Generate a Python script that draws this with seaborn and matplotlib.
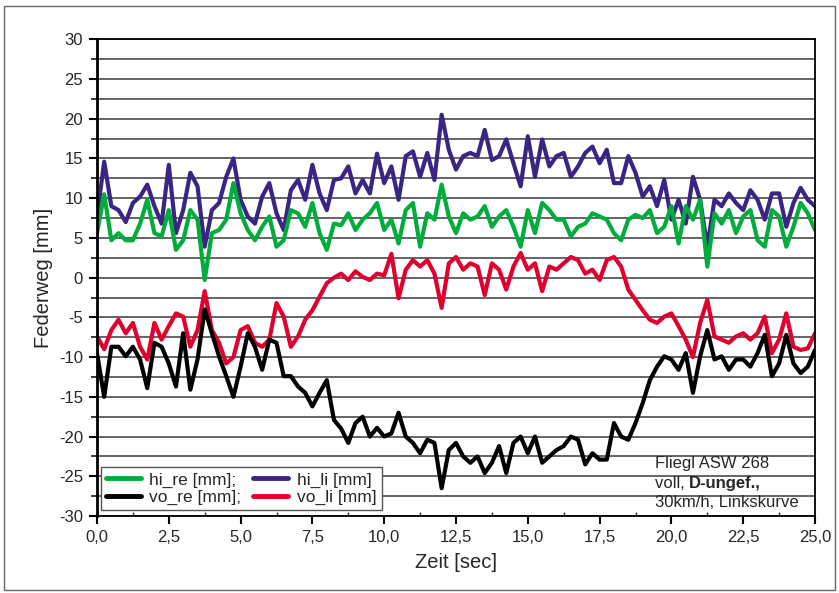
import numpy as np
import pandas as pd
import matplotlib.pyplot as plt
import matplotlib.patches as patches
from matplotlib.ticker import MultipleLocator
import seaborn as sns

sns.set_style("white")
plt.rcParams['font.family'] = ['Liberation Sans', 'DejaVu Sans']

# time axis [sec], sampled every 0.25 s
zeit = np.arange(0, 25.01, 0.25)

hi_li = [7.7, 14.6, 9.0, 8.5, 7.0, 9.4, 10.2, 11.7, 9.0, 6.8, 14.2, 5.6,
         8.5, 13.2, 11.5, 3.9, 8.5, 9.4, 12.7, 15.0, 9.8, 7.7, 6.8, 10.2,
         11.9, 8.1, 6.0, 11.0, 12.3, 9.8, 14.2, 10.6, 8.5, 12.3, 12.5, 14.0,
         10.6, 12.3, 10.6, 15.6, 11.9, 14.0, 9.8, 15.3, 15.9, 12.7, 15.7, 12.3,
         20.5, 16.1, 13.6, 15.3, 15.7, 15.3, 18.6, 14.8, 15.3, 17.4, 14.4, 11.5,
         17.8, 12.7, 17.4, 14.0, 15.3, 15.7, 12.7, 14.0, 15.7, 16.5, 14.4, 16.1,
         11.9, 11.9, 15.3, 13.2, 10.2, 11.5, 9.0, 12.3, 7.3, 9.8, 6.8, 12.7,
         9.8, 3.9, 9.8, 9.0, 10.6, 9.4, 8.5, 11.0, 9.8, 7.3, 10.6, 10.6,
         6.4, 9.4, 11.3, 9.8, 9.0]

hi_re = [5.6, 10.5, 4.7, 5.6, 4.7, 4.7, 6.8, 9.8, 5.6, 5.2, 8.5, 3.5,
         4.7, 8.5, 7.3, -0.3, 5.6, 6.0, 7.3, 11.9, 8.1, 6.0, 4.7, 6.4,
         7.7, 3.9, 4.7, 8.5, 8.1, 6.4, 9.4, 5.6, 3.5, 6.8, 6.6, 8.1,
         6.0, 7.3, 8.1, 9.4, 6.0, 7.3, 4.3, 8.5, 9.4, 3.9, 8.1, 7.3,
         11.7, 7.7, 5.6, 8.1, 7.3, 7.7, 9.0, 6.4, 7.7, 8.5, 6.4, 3.9,
         8.5, 5.6, 9.4, 8.5, 7.3, 7.3, 5.2, 6.4, 6.8, 8.1, 7.7, 7.3,
         5.6, 4.7, 7.3, 7.9, 7.5, 8.5, 5.6, 6.4, 9.0, 4.3, 9.0, 7.3,
         9.8, 1.4, 8.1, 6.8, 8.5, 5.6, 7.7, 8.5, 4.7, 3.9, 8.5, 7.7,
         3.9, 6.4, 9.4, 8.1, 6.0]

vo_li = [-7.4, -9.0, -6.6, -5.3, -7.0, -5.7, -8.7, -10.3, -5.7, -7.8, -6.1, -4.5,
         -4.9, -8.7, -6.6, -1.7, -6.6, -8.2, -10.8, -10.0, -6.6, -6.1, -8.2, -8.7,
         -7.8, -3.2, -4.9, -8.7, -7.4, -5.3, -4.1, -2.4, -0.7, 0.0, 0.5, -0.3,
         0.8, 0.1, -0.3, 0.5, 0.3, 3.0, -2.6, 1.0, 2.2, 1.4, 2.2, 0.5,
         -3.8, 1.8, 2.6, 1.0, 1.8, 1.4, -2.2, 1.8, 1.0, -1.5, 1.4, 3.1,
         1.0, 1.8, -1.7, 1.4, 1.0, 1.8, 2.6, 2.2, 0.5, 1.0, -0.3, 2.2,
         2.6, 1.4, -1.5, -2.8, -4.1, -5.3, -5.7, -4.9, -4.5, -6.1, -7.8, -10.0,
         -5.7, -2.8, -7.4, -7.8, -8.2, -7.4, -7.0, -7.8, -7.0, -4.9, -9.5, -7.8,
         -4.5, -8.7, -9.1, -8.9, -7.0]

vo_re = [-9.5, -15.0, -8.7, -8.7, -9.9, -8.7, -10.3, -13.9, -8.2, -8.7, -10.8, -13.7,
         -7.0, -14.1, -10.3, -4.0, -7.0, -9.9, -12.4, -15.0, -11.2, -7.0, -8.7, -11.6,
         -7.8, -8.2, -12.4, -12.4, -13.7, -14.5, -16.2, -14.5, -12.9, -17.9, -19.0, -20.8,
         -18.3, -17.5, -20.0, -18.9, -20.0, -19.6, -17.0, -20.0, -20.8, -22.1, -20.4, -20.8,
         -26.5, -21.7, -20.8, -22.5, -23.3, -22.5, -24.6, -23.3, -21.2, -24.6, -20.8, -20.0,
         -22.1, -20.0, -23.3, -22.5, -21.7, -21.2, -20.0, -20.4, -23.5, -22.1, -22.9, -22.9,
         -18.3, -20.0, -20.4, -18.3, -15.8, -12.9, -11.2, -9.9, -10.3, -11.6, -9.5, -14.5,
         -9.9, -6.6, -10.3, -9.9, -11.6, -10.3, -10.3, -11.2, -9.5, -7.2, -12.4, -10.8,
         -7.2, -10.8, -12.0, -11.2, -9.1]

df = pd.DataFrame({'Zeit': zeit, 'hi_li': hi_li, 'hi_re': hi_re,
                   'vo_li': vo_li, 'vo_re': vo_re})

series = [('hi_li', 'hi_li [mm]', '#3b2584'),
          ('hi_re', 'hi_re [mm];', '#00ac3c'),
          ('vo_li', 'vo_li [mm]', '#e0002f'),
          ('vo_re', 'vo_re [mm];', '#000000')]

x_ticks = [0, 2.5, 5, 7.5, 10, 12.5, 15, 17.5, 20, 22.5, 25]
y_ticks = [-30, -25, -20, -15, -10, -5, 0, 5, 10, 15, 20, 25, 30]

fig = plt.figure(figsize=(8.39, 5.93), dpi=100)
ax = fig.add_axes([97/839, 1-516/593, 718/839, (516-39.3)/593])

for col, lab, c in series:
    sns.lineplot(data=df, x='Zeit', y=col, ax=ax, color=c, lw=3.0, label=lab)

ax.set_xlim(0, 25)
ax.set_ylim(-30, 30)
ax.set_xticks(x_ticks)
ax.set_xticklabels([f"{v:.1f}".replace('.', ',') for v in x_ticks])
ax.set_yticks(y_ticks)
ax.set_yticklabels([str(v) for v in y_ticks])
ax.xaxis.set_minor_locator(MultipleLocator(1.25))
ax.yaxis.set_minor_locator(MultipleLocator(2.5))
ax.tick_params(axis='both', which='major', labelsize=12, direction='out',
               length=6, width=1.5, color='black', pad=4)
ax.tick_params(axis='y', which='minor', direction='out', length=4, width=1.3)
ax.tick_params(axis='x', which='minor', direction='in', length=3, width=1.0)
ax.tick_params(left=True, bottom=True, which='both')

ax.grid(True, axis='y', which='both', color='#4a4a4a', lw=1.2)
ax.grid(False, axis='x', which='both')
ax.set_axisbelow(True)
ax.spines['left'].set_linewidth(2.0)
for s in ['bottom', 'right', 'top']:
    ax.spines[s].set_linewidth(1.3)
for s in ax.spines.values():
    s.set_color('black')

ax.set_xlabel('Zeit [sec]', fontsize=14.5, labelpad=6)
ax.set_ylabel('Federweg [mm]', fontsize=14.5, labelpad=4)

h, l = ax.get_legend_handles_labels()
order = [1, 3, 0, 2]
leg = ax.legend([h[i] for i in order], [l[i] for i in order], ncol=2,
                loc='lower left', bbox_to_anchor=(0.005, 0.012), borderaxespad=0,
                fontsize=12.5, handlelength=2.0, columnspacing=0.7, labelspacing=0.12,
                handletextpad=0.5, borderpad=0.3, fancybox=False, framealpha=1,
                edgecolor='#555555')
leg.get_frame().set_linewidth(1.0)
for ln in leg.get_lines():
    ln.set_linewidth(3.5)

tx = (655-97)/718
ax.text(tx, 0.111, 'Fliegl ASW 268', transform=ax.transAxes, fontsize=12, va='center')
t2 = ax.text(tx, 0.069, 'voll, ', transform=ax.transAxes, fontsize=12, va='center')
ax.annotate('D-ungef.,', xy=(1, 0.5), xycoords=t2, fontsize=12, fontweight='bold',
            va='center', ha='left')
ax.text(tx, 0.029, '30km/h, Linkskurve', transform=ax.transAxes, fontsize=12, va='center')

fig.patches.append(patches.Rectangle((4/839, 3/593), 831/839, 584/593,
                                     transform=fig.transFigure, fill=False,
                                     edgecolor='#666666', lw=1.0))

fig.savefig('out.png', dpi=100)
